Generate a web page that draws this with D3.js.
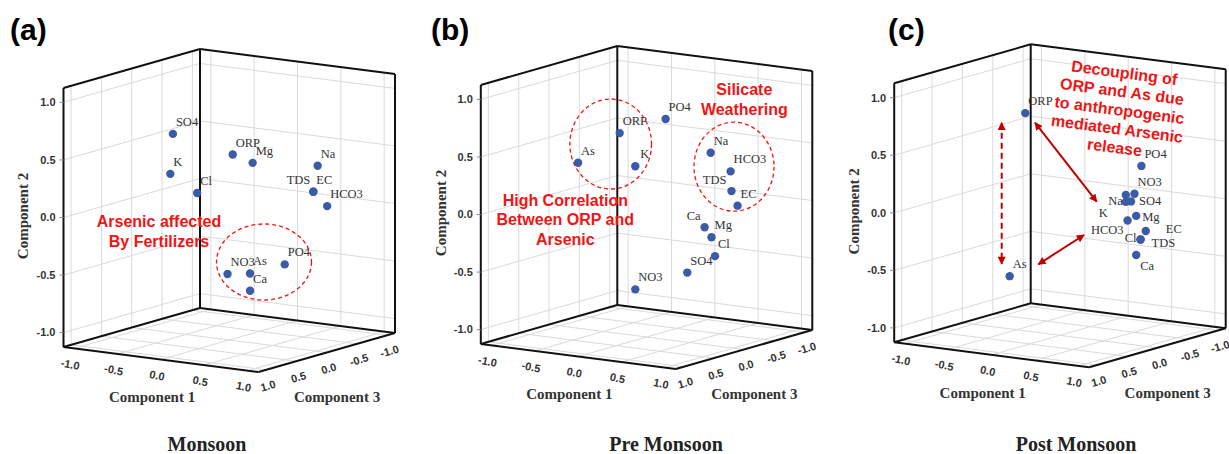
<!DOCTYPE html>
<html>
<head>
<meta charset="utf-8">
<script src="https://cdn.jsdelivr.net/npm/d3@7"></script>
<style>
body { margin: 0; background: #fff; }
</style>
</head>
<body>
<svg id="chart" width="1229" height="454"></svg>
<script>
// component loadings
var names_a = ["SO4", "K", "Cl", "ORP", "Mg", "Na", "TDS", "EC", "HCO3", "PO4", "NO3", "As", "Ca"];
var comp1_a = [-0.37, -0.40, -0.23, 0.04, 0.27, 0.74, 0.69, 0.69, 0.85, 0.50, 0.12, 0.38, 0.38];
var comp2_a = [0.69, 0.34, 0.16, 0.49, 0.44, 0.40, 0.17, 0.17, 0.06, -0.45, -0.51, -0.48, -0.63];
var comp3_a = [0.4, 0.4, 0.2, 0.0, 0.0, -0.4, -0.4, -0.4, -0.4, -0.2, 0.2, 0.2, 0.2];

var names_b = ["PO4", "ORP", "As", "K", "Na", "HCO3", "TDS", "EC", "Ca", "Mg", "Cl", "SO4", "NO3"];
var comp1_b = [0.22, -0.17, -0.51, 0.01, 0.46, 0.69, 0.70, 0.77, 0.53, 0.61, 0.65, 0.47, 0.01];
var comp2_b = [0.79, 0.66, 0.40, 0.39, 0.46, 0.32, 0.15, 0.03, -0.15, -0.23, -0.39, -0.52, -0.68];
var comp3_b = [0.0, 0.2, 0.4, 0.2, -0.4, -0.4, -0.4, -0.4, -0.2, -0.2, -0.2, 0.0, 0.2];

var names_c = ["ORP", "As", "PO4", "NO3", "Na", "SO4", "K", "Mg", "HCO3", "EC", "TDS", "Cl", "Ca"];
var comp1_c = [-0.26, -0.30, 0.66, 0.58, 0.48, 0.54, 0.48, 0.60, 0.50, 0.71, 0.65, 0.65, 0.60];
var comp2_c = [0.81, -0.58, 0.35, 0.10, 0.08, 0.03, 0.02, -0.09, -0.14, -0.21, -0.29, -0.29, -0.43];
var comp3_c = [0.2, 0.4, -0.4, -0.4, -0.4, -0.4, -0.4, -0.4, -0.4, -0.4, -0.4, -0.4, -0.4];

var ticks = [-1.0, -0.5, 0.0, 0.5, 1.0];
var tickLabels = ["-1.0", "-0.5", "0.0", "0.5", "1.0"];
var titles = ["Monsoon", "Pre Monsoon", "Post Monsoon"];
var letters = ["(a)", "(b)", "(c)"];

var svg = d3.select("#chart");
var SERIF = "'Times New Roman', 'Liberation Serif', serif";
var SANS = "Arial, 'Liberation Sans', sans-serif";
var RED = "#f01515";

// oblique box: back-bottom corner is the origin, edges as screen vectors
var R = 1.125;
var frac = d3.scaleLinear().domain([-R, R]).range([0, 1]);
var E1 = [195, 25], E3 = [-136.5, 39], H = 259;

var panels = [
  {ox: 200, oy: 308, titleX: 207, letterX: 10, names: names_a, c1: comp1_a, c2: comp2_a, c3: comp3_a},
  {ox: 617.3, oy: 305, titleX: 666, letterX: 431, names: names_b, c1: comp1_b, c2: comp2_b, c3: comp3_b},
  {ox: 1030.7, oy: 303.3, titleX: 1076, letterX: 888, names: names_c, c1: comp1_c, c2: comp2_c, c3: comp3_c}
];

// label offsets from the dot where the plot moved them
var labelPlace = [
  {TDS: [-3, -8, "end"]},
  {TDS: [-5, -7, "end"], Ca: [-4, -7, "end"], K: [5, -8]},
  {Na: [-3, 10, "end"], SO4: [8, 4], K: [-18, 15, "end"], Mg: [6, 5], HCO3: [-4, 13, "end"],
   EC: [20, 2], Cl: [-4, 3, "end"], TDS: [11, 8], Ca: [4, 15]}
];

function project(p, v1, v2, v3) {
  var a = frac(v1), b = frac(v3), h = frac(v2);
  return [p.ox + a * E1[0] + b * E3[0], p.oy + a * E1[1] + b * E3[1] - h * H];
}

function seg(g, u, v, color, w) {
  g.append("line")
    .attr("x1", u[0]).attr("y1", u[1])
    .attr("x2", v[0]).attr("y2", v[1])
    .attr("stroke", color).attr("stroke-width", w);
}

var defs = svg.append("defs");
defs.append("marker")
  .attr("id", "head")
  .attr("viewBox", "0 0 10 10")
  .attr("refX", 9).attr("refY", 5)
  .attr("markerUnits", "userSpaceOnUse")
  .attr("markerWidth", 9).attr("markerHeight", 8)
  .attr("orient", "auto-start-reverse")
  .append("path").attr("d", "M0,0 L10,5 L0,10 z").attr("fill", "#c00000");

function drawPanel(p, i) {
  var g = svg.append("g");

  // grid on the two back walls and the floor
  ticks.forEach(function(t) {
    seg(g, project(p, -R, -R, t), project(p, -R, R, t), "#dadada", 1);
    seg(g, project(p, -R, t, -R), project(p, -R, t, R), "#dadada", 1);
    seg(g, project(p, t, -R, -R), project(p, t, R, -R), "#dadada", 1);
    seg(g, project(p, -R, t, -R), project(p, R, t, -R), "#dadada", 1);
    seg(g, project(p, t, -R, -R), project(p, t, -R, R), "#dadada", 1);
    seg(g, project(p, -R, -R, t), project(p, R, -R, t), "#dadada", 1);
  });

  // box frame
  var edges = [
    [[-R, -R, -R], [-R, R, -R]], [[-R, -R, R], [-R, R, R]], [[R, -R, -R], [R, R, -R]],
    [[-R, R, -R], [-R, R, R]], [[-R, R, -R], [R, R, -R]],
    [[-R, -R, -R], [-R, -R, R]], [[-R, -R, -R], [R, -R, -R]],
    [[-R, -R, R], [R, -R, R]], [[R, -R, -R], [R, -R, R]]
  ];
  edges.forEach(function(e) {
    seg(g, project(p, e[0][0], e[0][1], e[0][2]), project(p, e[1][0], e[1][1], e[1][2]), "#111", 2);
  });

  // component 2 ticks (left edge)
  ticks.forEach(function(t, k) {
    var q = project(p, -R, t, R);
    seg(g, q, [q[0] - 4, q[1]], "#888", 1);
    g.append("text").attr("x", q[0] - 8).attr("y", q[1]).attr("dy", "0.35em")
      .attr("text-anchor", "end").attr("font-family", SANS).attr("font-weight", "bold")
      .attr("font-size", 11).attr("fill", "#333").text(tickLabels[k]);
  });
  // component 1 ticks (front-left floor edge)
  ticks.forEach(function(t, k) {
    var q = project(p, t, -R, R);
    g.append("text").attr("transform", "translate(" + (q[0] - 4) + "," + (q[1] + 16) + ") rotate(12)")
      .attr("dy", "0.35em").attr("text-anchor", "middle").attr("font-family", SANS)
      .attr("font-weight", "bold").attr("font-size", 11).attr("fill", "#333").text(tickLabels[k]);
  });
  // component 3 ticks (front-right floor edge)
  ticks.forEach(function(t, k) {
    var q = project(p, R, -R, t);
    g.append("text").attr("transform", "translate(" + (q[0] + 2) + "," + (q[1] + 16) + ") rotate(-16)")
      .attr("dy", "0.35em").attr("text-anchor", "middle").attr("font-family", SANS)
      .attr("font-weight", "bold").attr("font-size", 11).attr("fill", "#333").text(tickLabels[k]);
  });

  // axis titles
  var axTitle = function(x, y, rot, txt) {
    g.append("text").attr("transform", "translate(" + x + "," + y + ") rotate(" + rot + ")")
      .attr("dy", "0.35em").attr("text-anchor", "middle").attr("font-family", SERIF)
      .attr("font-weight", "bold").attr("font-size", 15).attr("fill", "#333").text(txt);
  };
  axTitle(p.ox - 48, p.oy + 89, 0, "Component 1");
  axTitle(p.ox + 137, p.oy + 89, 0, "Component 3");
  axTitle(p.ox - 177, p.oy - 92, -90, "Component 2");

  // points
  var pts = p.names.map(function(n, k) {
    return {name: n, pos: project(p, p.c1[k], p.c2[k], p.c3[k])};
  });
  g.selectAll(".dot").data(pts).enter().append("circle")
    .attr("class", "dot")
    .attr("cx", function(d) { return d.pos[0]; })
    .attr("cy", function(d) { return d.pos[1]; })
    .attr("r", 4.2).attr("fill", "#3c5ba6");
  g.selectAll(".lbl").data(pts).enter().append("text")
    .attr("class", "lbl")
    .each(function(d) {
      var o = labelPlace[i][d.name] || [3, -8, "start"];
      d3.select(this).attr("x", d.pos[0] + o[0]).attr("y", d.pos[1] + o[1])
        .attr("text-anchor", o[2] || "start");
    })
    .attr("font-family", SERIF).attr("font-size", 12.5).attr("fill", "#333")
    .text(function(d) { return d.name; });

  // panel letter and title
  svg.append("text").attr("x", p.letterX).attr("y", 40).attr("font-family", SANS)
    .attr("font-weight", "bold").attr("font-size", 30).attr("fill", "#000").text(letters[i]);
  svg.append("text").attr("x", p.titleX).attr("y", 451).attr("text-anchor", "middle")
    .attr("font-family", SERIF).attr("font-weight", "bold").attr("font-size", 20)
    .attr("fill", "#222").text(titles[i]);
  return g;
}

var groups = panels.map(drawPanel);

// red annotations
function redLines(g, x, y, lines, lh, rot) {
  var t = g.append("g").attr("transform", "translate(" + x + "," + y + ") rotate(" + (rot || 0) + ")");
  lines.forEach(function(s, k) {
    t.append("text").attr("x", 0).attr("y", k * lh).attr("text-anchor", "middle")
      .attr("font-family", SANS).attr("font-weight", "bold").attr("font-size", 16)
      .attr("fill", RED).text(s);
  });
}
function ring(g, p, cx, cy, rx, ry) {
  g.append("ellipse").attr("cx", p.ox + cx).attr("cy", p.oy + cy).attr("rx", rx).attr("ry", ry)
    .attr("fill", "none").attr("stroke", RED).attr("stroke-width", 1.3).attr("stroke-dasharray", "4,3");
}

var pa = panels[0], pb = panels[1], pc = panels[2];
redLines(groups[0], pa.ox - 41, pa.oy - 81.5, ["Arsenic affected", "By Fertilizers"], 20);
ring(groups[0], pa, 64, -46, 47.5, 38);

redLines(groups[1], pb.ox + 127, pb.oy - 210, ["Silicate", "Weathering"], 19.5);
redLines(groups[1], pb.ox - 52, pb.oy - 99.4, ["High Correlation", "Between ORP and", "Arsenic"], 19.8);
ring(groups[1], pb, 116.7, -138.3, 40, 44.5);
ring(groups[1], pb, -6.6, -161, 40.8, 45);

redLines(groups[2], pc.ox + 93, pc.oy - 225, ["Decoupling of", "ORP and As due", "to anthropogenic",
  "mediated Arsenic", "release"], 18.8, 7.5);

function arrow(g, p, a, b, dashed) {
  g.append("line")
    .attr("x1", p.ox + a[0]).attr("y1", p.oy + a[1])
    .attr("x2", p.ox + b[0]).attr("y2", p.oy + b[1])
    .attr("stroke", "#c00000").attr("stroke-width", 2)
    .attr("stroke-dasharray", dashed ? "6,4" : null)
    .attr("marker-start", "url(#head)").attr("marker-end", "url(#head)");
}
arrow(groups[2], pc, [-29, -180.6], [-29, -39.3], true);
arrow(groups[2], pc, [4.3, -180.6], [66, -101.6], false);
arrow(groups[2], pc, [7.6, -39], [53.3, -68.3], false);
</script>
</body>
</html>
